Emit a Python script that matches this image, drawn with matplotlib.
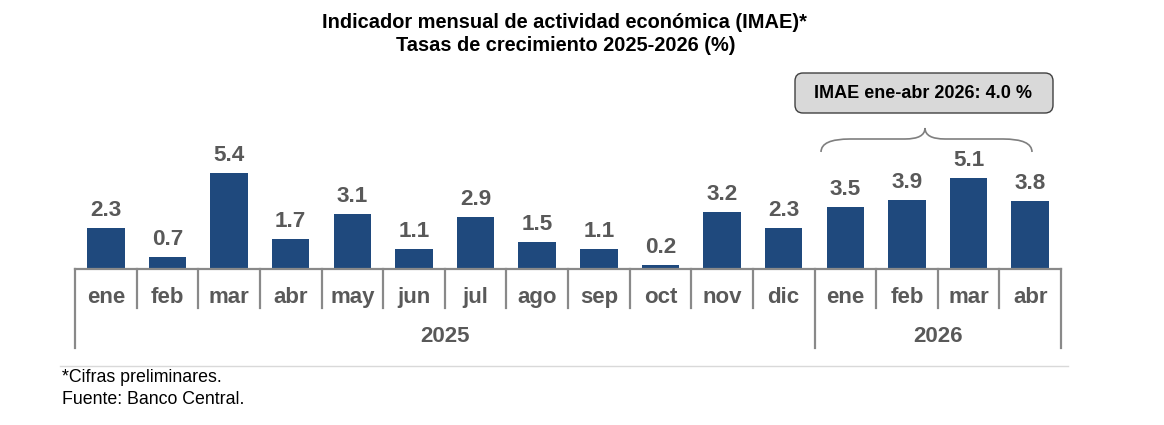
import numpy as np
import matplotlib
matplotlib.use("Agg")
import matplotlib.pyplot as plt
from matplotlib.patches import FancyBboxPatch, PathPatch
from matplotlib.path import Path
from matplotlib.lines import Line2D
from matplotlib.transforms import blended_transform_factory

plt.rcParams['font.family'] = ['Liberation Sans', 'DejaVu Sans']

# Data
months = ["ene", "feb", "mar", "abr", "may", "jun", "jul", "ago", "sep", "oct", "nov", "dic",
          "ene", "feb", "mar", "abr"]
values = [2.3, 0.7, 5.4, 1.7, 3.1, 1.1, 2.9, 1.5, 1.1, 0.2, 3.2, 2.3,
          3.5, 3.9, 5.1, 3.8]
years = ["2025", "2026"]
year_counts = [12, 4]

title_1 = "Indicador mensual de actividad económica (IMAE)*"
title_2 = "Tasas de crecimiento 2025-2026 (%)"
box_text = "IMAE ene-abr 2026: 4.0 %"
notes = ["*Cifras preliminares.", "Fuente: Banco Central."]

BAR = '#1F497D'
LABEL = '#595959'
AXIS = '#898989'

W, H = 1164, 425
fig = plt.figure(figsize=(W / 100, H / 100), dpi=100)

def fy(py):
    # pixel row from the top -> figure fraction
    return (H - py) / H

def fx(px):
    return px / W

ax_left, ax_right, ax_base, ax_top = 75, 1061, 269, 60
ax = fig.add_axes([fx(ax_left), fy(ax_base), fx(ax_right - ax_left), (ax_base - ax_top) / H])
n = len(values)
x = np.arange(n)
ax.bar(x, values, width=0.61, color=BAR, zorder=2)
ax.set_xlim(-0.5, n - 0.5)
ax.set_ylim(0, (ax_base - ax_top) / 17.8)
ax.set_xticks([])
ax.set_yticks([])
for s in ['top', 'left', 'right']:
    ax.spines[s].set_visible(False)
ax.spines['bottom'].set_color(AXIS)
ax.spines['bottom'].set_linewidth(1.6)

for xi, v in zip(x, values):
    ax.annotate(f"{v:.1f}", (xi, v), xytext=(0, 8.6), textcoords='offset points',
                ha='center', va='baseline', fontsize=16.2, fontweight='bold', color=LABEL)

# category axis: months, dividers and years
tr = blended_transform_factory(ax.transData, fig.transFigure)
for xi, m in zip(x, months):
    fig.text(xi, fy(302.7), m, transform=tr, ha='center', va='baseline',
             fontsize=16, fontweight='bold', color=LABEL)

bounds = np.concatenate([[0], np.cumsum(year_counts)])
for i in range(n + 1):
    bottom = 348 if i in bounds else 308
    fig.add_artist(Line2D([i - 0.5, i - 0.5], [fy(ax_base), fy(bottom)], transform=tr,
                          color=AXIS, lw=1.6, clip_on=False))
for y, a, b in zip(years, bounds[:-1], bounds[1:]):
    fig.text((a + b - 1) / 2, fy(341.7), y, transform=tr, ha='center', va='baseline',
             fontsize=16, fontweight='bold', color=LABEL)

# titles
fig.text(fx(564), fy(27.7), title_1, ha='center', va='baseline', fontsize=14.4, fontweight='bold')
fig.text(fx(566), fy(51), title_2, ha='center', va='baseline', fontsize=14.4, fontweight='bold')

# summary box with brace
inch = fig.dpi_scale_trans
box = FancyBboxPatch((7.95, (H - 113) / 100), 2.58, 0.40,
                     boxstyle="round,pad=0,rounding_size=0.08",
                     transform=inch, facecolor='#D9D9D9', edgecolor='#404040', lw=1.0)
fig.add_artist(box)
fig.text(fx(923), fy(94), box_text, ha='center', va='center', fontsize=13, fontweight='bold')

pts = [(821, 152), (821, 139), (850, 139), (905, 139), (925, 139), (925, 128),
       (925, 139), (945, 139), (1003, 139), (1032, 139), (1032, 152)]
codes = [Path.MOVETO, Path.CURVE3, Path.CURVE3, Path.LINETO, Path.CURVE3, Path.CURVE3,
         Path.CURVE3, Path.CURVE3, Path.LINETO, Path.CURVE3, Path.CURVE3]
brace = Path([(px / 100, (H - py) / 100) for px, py in pts], codes)
fig.add_artist(PathPatch(brace, transform=inch, facecolor='none', edgecolor='#7F7F7F', lw=1.2))

# footnotes
fig.add_artist(Line2D([fx(60), fx(1068)], [fy(366), fy(366)], color='#D9D9D9', lw=1.0))
fig.text(fx(62), fy(378), notes[0], ha='left', va='center', fontsize=12.8)
fig.text(fx(62), fy(399), notes[1], ha='left', va='center', fontsize=12.8)

fig.savefig("out.png", dpi=100)
